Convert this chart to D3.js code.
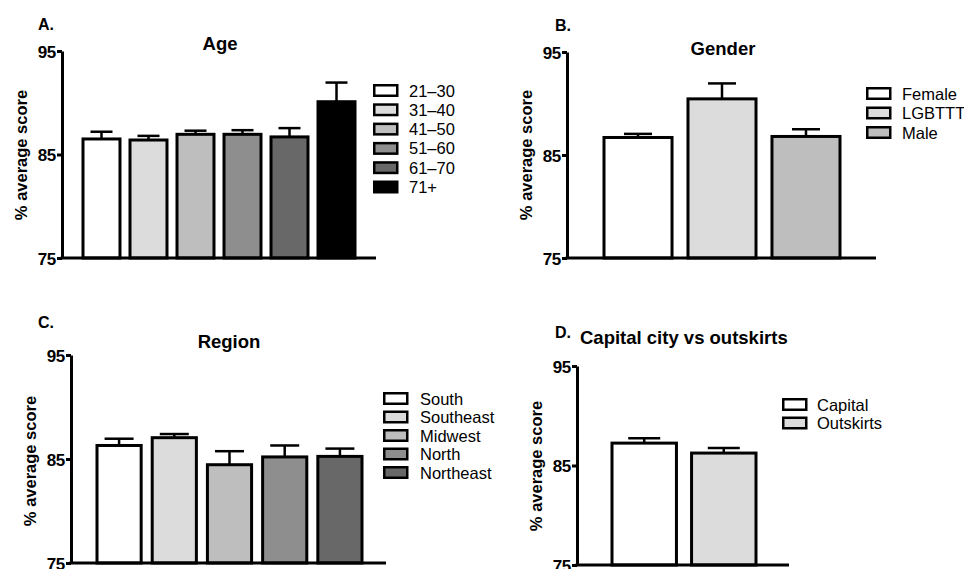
<!DOCTYPE html>
<html>
<head>
<meta charset="utf-8">
<script src="https://cdn.jsdelivr.net/npm/d3@7"></script>
<style>
  body { margin: 0; background: #fff; }
  svg { display: block; }
  text { font-family: "Liberation Sans", Arial, Helvetica, sans-serif; fill: #000; }
  .axis path, .axis line { stroke: #000; stroke-width: 3; }
  .axis text { font-size: 17px; font-weight: bold; letter-spacing: -0.3px; }
</style>
</head>
<body>
<svg id="chart" width="964" height="569"></svg>
<script>
"use strict";

// shared y ticks
var yTicks = [75, 85, 95];

// A. Age
var ageGroups = ["21\u201330", "31\u201340", "41\u201350", "51\u201360", "61\u201370", "71+"];
var ageMeans  = [86.5, 86.4, 86.95, 86.95, 86.7, 90.1];
var ageSem    = [0.7, 0.4, 0.35, 0.4, 0.85, 1.85];
var ageFills  = ["#ffffff", "#dcdcdc", "#bebebe", "#8e8e8e", "#686868", "#000000"];

// B. Gender
var genderGroups = ["Female", "LGBTTT", "Male"];
var genderMeans  = [86.7, 90.45, 86.8];
var genderSem    = [0.35, 1.5, 0.7];
var genderFills  = ["#ffffff", "#dcdcdc", "#bebebe"];

// C. Region
var regionGroups = ["South", "Southeast", "Midwest", "North", "Northeast"];
var regionMeans  = [86.3, 87.05, 84.45, 85.2, 85.25];
var regionSem    = [0.65, 0.35, 1.3, 1.1, 0.75];
var regionFills  = ["#ffffff", "#dcdcdc", "#bebebe", "#8e8e8e", "#686868"];

// D. Capital city vs outskirts
var capitalGroups = ["Capital", "Outskirts"];
var capitalMeans  = [87.25, 86.25];
var capitalSem    = [0.5, 0.5];
var capitalFills  = ["#ffffff", "#dcdcdc"];

var svg = d3.select("#chart");

/*
 * Draw one bar panel
 */
function drawPanel(p) {
	var g = svg.append("g");

	var y = d3.scaleLinear().domain([75, 95]).range([p.yBottom, p.yTop]);
	var x = d3.scaleBand()
		.domain(p.groups)
		.range([p.barLeft, p.barRight])
		.paddingInner(p.pad)
		.paddingOuter(0);
	var bw = x.bandwidth();

	var data = p.groups.map(function(k, i) {
		return { key: k, mean: p.means[i], sem: p.sem[i], fill: p.fills[i] };
	});

	// error bars (upper only, drawn under the bar outline)
	var err = g.selectAll(".err").data(data).enter().append("g").attr("class", "err");
	err.append("line")
		.attr("x1", function(d) { return x(d.key) + bw / 2; })
		.attr("x2", function(d) { return x(d.key) + bw / 2; })
		.attr("y1", function(d) { return y(d.mean); })
		.attr("y2", function(d) { return y(d.mean + d.sem); })
		.attr("stroke", "#000").attr("stroke-width", 2.5);
	err.append("line")
		.attr("x1", function(d) { return x(d.key) + bw / 2 - p.cap / 2; })
		.attr("x2", function(d) { return x(d.key) + bw / 2 + p.cap / 2; })
		.attr("y1", function(d) { return y(d.mean + d.sem); })
		.attr("y2", function(d) { return y(d.mean + d.sem); })
		.attr("stroke", "#000").attr("stroke-width", 2.5);

	g.selectAll(".bar").data(data).enter().append("rect")
		.attr("class", "bar")
		.attr("x", function(d) { return x(d.key); })
		.attr("y", function(d) { return y(d.mean); })
		.attr("width", bw)
		.attr("height", function(d) { return y(75) - y(d.mean); })
		.attr("fill", function(d) { return d.fill; })
		.attr("stroke", "#000")
		.attr("stroke-width", 3);

	// y axis
	g.append("g")
		.attr("class", "axis")
		.attr("transform", "translate(" + p.axisX + ",0)")
		.call(d3.axisLeft(y).tickValues(yTicks).tickSize(5).tickPadding(1).tickSizeOuter(0))
		.selectAll("text").attr("dy", "0.36em");

	// x baseline
	g.append("line")
		.attr("x1", p.axisX - 1.5).attr("x2", p.axisEnd)
		.attr("y1", y(75)).attr("y2", y(75))
		.attr("stroke", "#000").attr("stroke-width", 3);

	// y label
	g.append("text")
		.attr("transform", "translate(" + p.ylabX + "," + p.ylabY + ")rotate(-90)")
		.attr("text-anchor", "middle")
		.style("font-size", "16.5px").style("font-weight", "bold")
		.text("% average score");

	// title
	g.append("text")
		.attr("x", p.titleX).attr("y", p.titleY)
		.attr("text-anchor", p.titleAnchor)
		.style("font-size", "18.5px").style("font-weight", "bold")
		.text(p.title);

	// panel letter
	g.append("text")
		.attr("x", p.letterX).attr("y", p.letterY)
		.style("font-size", "16px").style("font-weight", "bold")
		.text(p.letter);

	// legend
	var legend = g.selectAll(".legend").data(data).enter().append("g")
		.attr("class", "legend")
		.attr("transform", function(d, i) { return "translate(" + p.legX + "," + (p.legY + i * p.legStep) + ")"; });
	legend.append("rect")
		.attr("x", 1.25).attr("y", 1.25)
		.attr("width", 23).attr("height", 10.5)
		.attr("fill", function(d) { return d.fill; })
		.attr("stroke", "#000").attr("stroke-width", 2.5);
	legend.append("text")
		.attr("x", p.legTextX - p.legX)
		.attr("y", 12.5)
		.style("font-size", "16.5px")
		.text(function(d) { return d.key; });
}

drawPanel({
	groups: ageGroups, means: ageMeans, sem: ageSem, fills: ageFills,
	yTop: 51, yBottom: 258, axisX: 62, axisEnd: 376,
	barLeft: 83, barRight: 355, pad: 0.213, cap: 22,
	ylabX: 27, ylabY: 155, title: "Age", titleX: 220, titleY: 50, titleAnchor: "middle",
	letter: "A.", letterX: 38, letterY: 30,
	legX: 373, legY: 84, legStep: 19.3, legTextX: 409
});

drawPanel({
	groups: genderGroups, means: genderMeans, sem: genderSem, fills: genderFills,
	yTop: 52, yBottom: 258, axisX: 567, axisEnd: 876,
	barLeft: 604, barRight: 840, pad: 0.19, cap: 28,
	ylabX: 532, ylabY: 155, title: "Gender", titleX: 723, titleY: 55, titleAnchor: "middle",
	letter: "B.", letterX: 555, letterY: 31,
	legX: 866, legY: 87, legStep: 19.5, legTextX: 902
});

drawPanel({
	groups: regionGroups, means: regionMeans, sem: regionSem, fills: regionFills,
	yTop: 355, yBottom: 563, axisX: 71, axisEnd: 386,
	barLeft: 97, barRight: 362, pad: 0.2, cap: 29,
	ylabX: 36, ylabY: 461, title: "Region", titleX: 229, titleY: 348, titleAnchor: "middle",
	letter: "C.", letterX: 38, letterY: 328,
	legX: 383, legY: 392, legStep: 18.5, legTextX: 420
});

drawPanel({
	groups: capitalGroups, means: capitalMeans, sem: capitalSem, fills: capitalFills,
	yTop: 366, yBottom: 565, axisX: 577, axisEnd: 789,
	barLeft: 612, barRight: 756, pad: 0.19, cap: 32,
	ylabX: 542, ylabY: 466, title: "Capital city vs outskirts", titleX: 580, titleY: 344, titleAnchor: "start",
	letter: "D.", letterX: 555, letterY: 338,
	legX: 782, legY: 398, legStep: 18.5, legTextX: 817
});
</script>
</body>
</html>
